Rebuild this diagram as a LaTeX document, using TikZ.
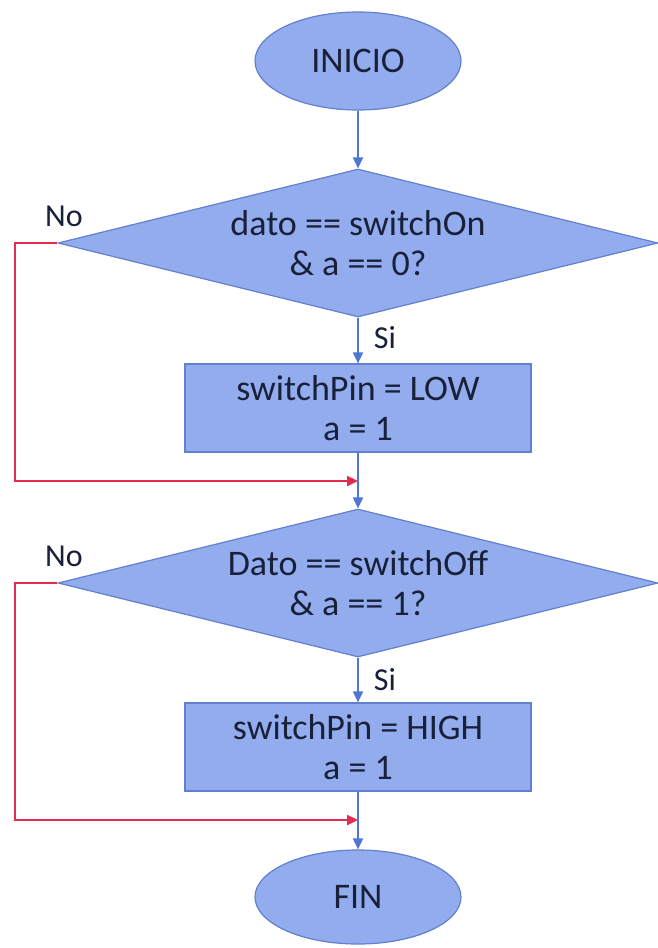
\documentclass[tikz,border=0pt]{standalone}
\usepackage{fontspec}
\setmainfont{Carlito}
\usetikzlibrary{shapes.geometric,arrows.meta}
\definecolor{shapefill}{RGB}{146,172,238}
\definecolor{shapeline}{RGB}{98,128,205}
\definecolor{flowblue}{RGB}{78,118,212}
\definecolor{flowred}{RGB}{226,44,82}
\definecolor{inkdark}{RGB}{24,32,58}
\tikzset{
  x=1pt, y=-1pt,
  base/.style={fill=shapefill, draw=shapeline, line width=1.2pt, text=inkdark,
    font=\fontsize{36}{40}\selectfont, align=center, inner sep=0pt},
  terminal/.style={base, ellipse, minimum width=206pt, minimum height=98pt},
  decision/.style={base, diamond, aspect=4, minimum width=600pt, minimum height=148pt},
  process/.style={base, rectangle, minimum width=346pt, minimum height=88pt},
  yesflow/.style={draw=flowblue, line width=1.8pt, -{Triangle[length=11pt,width=10pt]}},
  noflow/.style={draw=flowred, line width=2.4pt, -{Triangle[length=11pt,width=10pt]}},
  tag/.style={text=inkdark, font=\fontsize{32}{36}\selectfont, inner sep=0pt}
}
\begin{document}
\begin{tikzpicture}
\useasboundingbox (0,0) rectangle (657,948);
\fill[white] (0,0) rectangle (657,948);

% shapes
\node[terminal] (start) at (358,61) {INICIO};
\node[decision] (q1) at (358,243) {dato == switchOn\\\& a == 0?};
\node[process] (p1) at (358,408) {switchPin = LOW\\a = 1};
\node[decision] (q2) at (358,583) {Dato == switchOff\\\& a == 1?};
\node[process] (p2) at (358,747) {switchPin = HIGH\\a = 1};
\node[terminal, minimum height=94pt] (stop) at (358,897) {FIN};

% join points of the "No" branches
\coordinate (j1) at (358,481);
\coordinate (j2) at (358,820);
\coordinate (l1) at (15,243);
\coordinate (l2) at (15,583);

% main flow
\draw[yesflow] (start) -- (q1);
\draw[yesflow] (q1) -- (p1);
\draw[yesflow] (p1) -- (q2);
\draw[yesflow] (q2) -- (p2);
\draw[yesflow] (p2) -- (stop);

% "No" branches
\draw[noflow] (q1.west) -- (l1) |- (j1);
\draw[noflow] (q2.west) -- (l2) |- (j2);

% branch labels
\node[tag] (no1) at (64,216) {No};
\node[tag] (si1) at (385,338) {Si};
\node[tag] (no2) at (64,556) {No};
\node[tag] (si2) at (385,680) {Si};
\end{tikzpicture}
\end{document}
